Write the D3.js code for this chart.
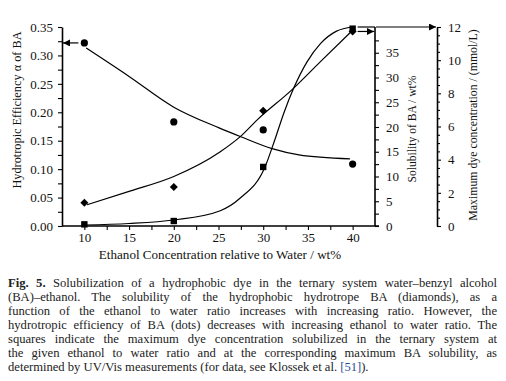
<!DOCTYPE html>
<html>
<head>
<meta charset="utf-8">
<script src="https://cdn.jsdelivr.net/npm/d3@7"></script>
<style>
  html, body { margin: 0; padding: 0; background: #fff; }
  #wrap { position: relative; width: 506px; height: 381px; overflow: hidden; }
  svg { position: absolute; left: 0; top: 0; }
  svg text { font-family: "Liberation Serif", "Times New Roman", serif; }
  #caption { position: absolute; left: 8px; top: 276px; width: 489px;
    font-family: "Liberation Serif", serif; font-size: 12.6px; line-height: 14px; color: #222; }
  #caption div { text-align: justify; text-align-last: justify; white-space: nowrap; }
  #caption div.last { text-align-last: left; }
  #caption b { font-weight: bold; }
  #caption .ref { color: #2a4f9a; }
</style>
</head>
<body>
<div id="wrap">
<svg id="chart" width="506" height="381"></svg>
<div id="caption"></div>
</div>
<script>
// ---- data ----
const concentrations = [10, 20, 30, 40];
const efficiency = [0.322, 0.183, 0.169, 0.109];     // dots, left axis
const solubility = [4.7, 7.9, 23.3, 39.3];            // diamonds, BA solubility wt%
const dyeConc = [0.1, 0.3, 3.56, 11.9];               // squares, mmol/L

const efficiencyFitX = [10.2, 15, 20, 25, 27.5, 31, 34, 39.7];
const efficiencyFit  = [0.313, 0.263, 0.209, 0.173, 0.157, 0.136, 0.125, 0.118];
const solubilityFitX = [10.3, 15, 20, 25.2, 27.4, 29.3, 33.2, 36.4, 39.8];
const solubilityFit  = [4.3, 7.0, 10.0, 15.0, 18.0, 21.4, 27.5, 33.2, 39.2];
const dyeFitX = [10, 15, 20, 25.2, 27.4, 30.2, 31.3, 32.3, 33.4, 34.9, 36.4, 38.2, 40];
const dyeFit  = [0.06, 0.15, 0.36, 0.92, 1.67, 3.56, 5.2, 6.8, 8.3, 9.9, 11.0, 11.75, 12.0];

const xTicks = [10, 15, 20, 25, 30, 35, 40];
const effTicks = [0, 0.05, 0.10, 0.15, 0.20, 0.25, 0.30, 0.35];
const solTicks = [0, 5, 10, 15, 20, 25, 30, 35];
const dyeTicks = [0, 2, 4, 6, 8, 10, 12];

const captionLines = [
  ["<b>Fig. 5.</b> Solubilization of a hydrophobic dye in the ternary system water–benzyl alcohol"],
  ["(BA)–ethanol. The solubility of the hydrophobic hydrotrope BA (diamonds), as a"],
  ["function of the ethanol to water ratio increases with increasing ratio. However, the"],
  ["hydrotropic efficiency of BA (dots) decreases with increasing ethanol to water ratio. The"],
  ["squares indicate the maximum dye concentration solubilized in the ternary system at"],
  ["the given ethanol to water ratio and at the corresponding maximum BA solubility, as"],
  ["determined by UV/Vis measurements (for data, see Klossek et al. <span class=\"ref\">[51]</span>)."]
];

// ---- chart ----
const svg = d3.select("#chart");
const font = "'Liberation Serif', 'Times New Roman', serif";

const x  = d3.scaleLinear().domain([7.5, 42.5]).range([62, 375]);
const yL = d3.scaleLinear().domain([0, 0.35]).range([226, 27]);
const yS = d3.scaleLinear().domain([0, 40]).range([226, 28]);
const yD = d3.scaleLinear().domain([0, 12]).range([226, 27]);

const defs = svg.append("defs");
defs.append("marker").attr("id", "arr").attr("viewBox", "0 0 10 10")
  .attr("refX", 10).attr("refY", 5).attr("markerWidth", 9).attr("markerHeight", 7)
  .attr("markerUnits", "userSpaceOnUse").attr("orient", "auto")
  .append("path").attr("d", "M0,0 L10,5 L0,10 Z").attr("fill", "#000");

function styleAxis(g) {
  g.attr("font-family", null);
  g.selectAll("path.domain").attr("stroke", "#000").attr("stroke-width", 1.6);
  g.selectAll(".tick line").attr("stroke", "#000").attr("stroke-width", 1.1);
  g.selectAll("text").style("font-family", font).style("font-size", "13px").attr("fill", "#111");
}
function minorTicks(g, axisFn, scale, vals, size) {
  g.append("g").call(axisFn(scale).tickValues(vals).tickSize(size).tickFormat(""))
    .call(a => a.select(".domain").remove())
    .call(a => a.selectAll("text").remove())
    .selectAll(".tick line").attr("stroke", "#000").attr("stroke-width", 1.1);
}

// bottom axis
const gx = svg.append("g").attr("transform", "translate(0,226)");
gx.call(d3.axisBottom(x).tickValues(xTicks).tickSize(4).tickSizeOuter(0).tickPadding(3).tickFormat(d3.format("d")));
styleAxis(gx);
minorTicks(gx, d3.axisBottom, x, d3.range(12.5, 40, 5), 4);
gx.select("path.domain").attr("d", "M62,0H379");

// left axis
const gl = svg.append("g").attr("transform", "translate(62,0)");
gl.call(d3.axisLeft(yL).tickValues(effTicks).tickSize(4).tickSizeOuter(0).tickPadding(5).tickFormat(d3.format(".2f")));
styleAxis(gl);
minorTicks(gl, d3.axisLeft, yL, d3.range(0.025, 0.35, 0.05), 4);

// solubility axis
const gs = svg.append("g").attr("transform", "translate(375,0)");
gs.call(d3.axisRight(yS).tickValues(solTicks).tickSize(4).tickSizeOuter(0).tickPadding(7));
styleAxis(gs);
minorTicks(gs, d3.axisRight, yS, d3.range(2.5, 40, 5), 4);
gs.select("path.domain").attr("d", "M0,226V27");

// dye axis
const gd = svg.append("g").attr("transform", "translate(437,0)");
gd.call(d3.axisRight(yD).tickValues(dyeTicks).tickSize(4).tickSizeOuter(0).tickPadding(7));
styleAxis(gd);
minorTicks(gd, d3.axisRight, yD, d3.range(0.5, 12, 0.5).filter(v => v % 2 !== 0), 3);

// axis titles
function title(tr, size, txt) {
  svg.append("text").attr("transform", tr).attr("text-anchor", "middle")
    .style("font-family", font).style("font-size", size + "px").attr("fill", "#111").text(txt);
}
title("translate(21,110) rotate(-90)", 12.3, "Hydrotropic Efficiency α of BA");
title("translate(416,129) rotate(-90)", 11.6, "Solubility of BA / wt%");
title("translate(477,125) rotate(-90)", 11.8, "Maximum dye concentration / (mmol/L)");
title("translate(220,259)", 13.1, "Ethanol Concentration relative to Water / wt%");

// fitted curves
const line = (ys) => d3.line().x(d => x(d[0])).y(d => ys(d[1])).curve(d3.curveMonotoneX);
function drawCurve(xs, vs, ys) {
  svg.append("path").datum(xs.map((v, i) => [v, vs[i]]))
    .attr("d", line(ys)).attr("fill", "none").attr("stroke", "#000").attr("stroke-width", 1.2);
}
drawCurve(efficiencyFitX, efficiencyFit, yL);
drawCurve(solubilityFitX, solubilityFit, yS);
drawCurve(dyeFitX, dyeFit, yD);

// markers
const squareDiamond = { draw(ctx, size) { const r = Math.sqrt(size / 2);
  ctx.moveTo(0, -r); ctx.lineTo(r, 0); ctx.lineTo(0, r); ctx.lineTo(-r, 0); ctx.closePath(); } };
svg.append("g").selectAll("circle").data(concentrations).join("circle")
  .attr("cx", d => x(d)).attr("cy", (d, i) => yL(efficiency[i])).attr("r", 3.6).attr("fill", "#000");
svg.append("g").selectAll("path").data(concentrations).join("path")
  .attr("transform", (d, i) => `translate(${x(d)},${yS(solubility[i])})`)
  .attr("d", d3.symbol(squareDiamond, 32)).attr("fill", "#000");
svg.append("g").selectAll("rect").data(concentrations).join("rect")
  .attr("x", d => x(d) - 3.2).attr("y", (d, i) => yD(dyeConc[i]) - 3.2)
  .attr("width", 6.4).attr("height", 6.4).attr("fill", "#000");

// arrows
const arrow = (x1, y1, x2, y2) => svg.append("line")
  .attr("x1", x1).attr("y1", y1).attr("x2", x2).attr("y2", y2)
  .attr("stroke", "#000").attr("stroke-width", 1.2).attr("marker-end", "url(#arr)");
arrow(x(concentrations[0]) - 6, yL(efficiency[0]), 63, yL(efficiency[0]));
arrow(x(concentrations[3]) + 5, yS(solubility[3]), 374, yS(solubility[3]));
svg.append("line").attr("x1", x(concentrations[3]) + 5).attr("x2", 375)
  .attr("y1", yD(12)).attr("y2", yD(12)).attr("stroke", "#000").attr("stroke-width", 1.2);
arrow(376, yD(12), 436, yD(12));

// caption
d3.select("#caption").selectAll("div").data(captionLines).join("div")
  .attr("class", (d, i) => i === captionLines.length - 1 ? "last" : null)
  .html(d => d[0]);
</script>
</body>
</html>
